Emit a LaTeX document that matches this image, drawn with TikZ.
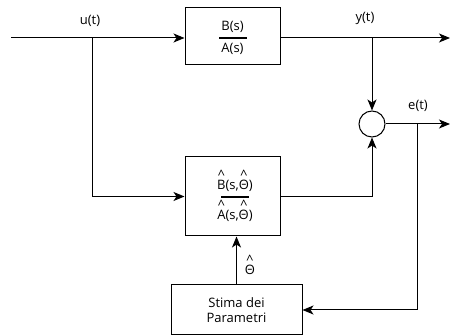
\documentclass[tikz,border=0pt]{standalone}
\usepackage{fontspec}
\setmainfont{Open Sans}
\usetikzlibrary{arrows.meta}
\newcommand\hatc[2][10pt]{\ooalign{#2\cr\hidewidth\raisebox{#1}{\textasciicircum}\hidewidth\cr}}
\begin{document}
\begin{tikzpicture}[x=1pt,y=-1pt,
  font=\fontsize{13}{15}\selectfont,
  line width=1pt,
  blk/.style={draw, rectangle, inner sep=0pt},
  lbl/.style={inner sep=0pt},
  arr/.style={-{Stealth[length=11pt,width=9pt,inset=3pt]}},
  fbar/.style={line width=1.6pt}]
\useasboundingbox (0,0) rectangle (450,336);
% blocks
\node[blk, minimum width=95pt, minimum height=57pt] (G) at (232.5,36) {};
\node[lbl] (Gn) at (232.5,27) {B(s)};
\node[lbl] (Gd) at (232.5,49) {A(s)};
\draw[fbar] (219,38) -- (247,38);

\node[blk, minimum width=95pt, minimum height=79pt] (H) at (232.5,196.5) {};
\node[lbl, anchor=base] (Hn) at (235,190) {\hatc{B}(s,\hatc{Θ})};
\node[lbl, anchor=base] (Hd) at (235,219.5) {\hatc{A}(s,\hatc{Θ})};
\draw[fbar] (221,197) -- (249,197);

\node[circle, draw, minimum size=26pt, inner sep=0pt] (S) at (372,124) {};

\node[blk, minimum width=131pt, minimum height=50pt, align=center,
      font=\fontsize{13}{15}\selectfont] (P) at (236.5,310) {Stima dei\\Parametri};

% coordinates
\coordinate (in) at (11,38);
\coordinate (uB) at (92,38);
\coordinate (yB) at (372,38);
\coordinate (yout) at (450,38);
\coordinate (eB) at (417,124);
\coordinate (eout) at (450,124);

% labels
\node[lbl] (ul) at (90,21) {u(t)};
\node[lbl] (yl) at (365,18) {y(t)};
\node[lbl] (el) at (418,106) {e(t)};
\node[lbl, anchor=base] (thl) at (250,274.5) {\hatc{Θ}};

% connectors
\draw[arr] (in) -- (G.west |- in);
\draw[arr] (uB) |- (H.west);
\draw[arr] (G.east |- in) -- (yout);
\draw[arr] (yB) -- (S.north);
\draw[arr] (H.east) -| (S.south);
\draw[arr] (S.east) -- (eout);
\draw[arr] (eB) |- (P.east);
\draw[arr] (P.north) -- (P.north |- H.south);
\end{tikzpicture}
\end{document}
